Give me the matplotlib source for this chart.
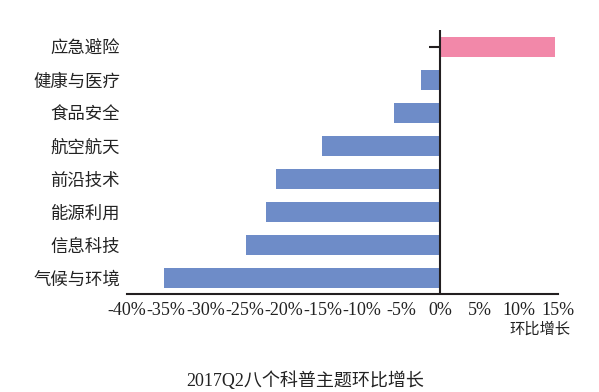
import numpy as np
import matplotlib.pyplot as plt
from matplotlib.ticker import FuncFormatter

# categories listed bottom to top
categories = ['气候与环境', '信息科技', '能源利用', '前沿技术', '航空航天', '食品安全', '健康与医疗', '应急避险']
growth = [-35.3, -24.8, -22.3, -21.0, -15.1, -5.9, -2.5, 14.6]
xticks = [-40, -35, -30, -25, -20, -15, -10, -5, 0, 5, 10, 15]

cjk = ['Noto Sans CJK SC', 'DejaVu Sans']
serif = ['Liberation Serif', 'Noto Sans CJK SC']
dark = '#231F20'

fig = plt.figure(figsize=(5.99, 3.92), dpi=100)
ax = fig.add_axes([0.212, 0.25, 0.7196, 0.6735])

y = np.arange(len(categories))
colors = ['#F288A9' if v > 0 else '#6E8CC8' for v in growth]
ax.barh(y, growth, height=0.6, color=colors, zorder=2)

ax.set_xlim(-40, 15)
ax.set_ylim(-0.485, 7.515)
ax.set_xticks(xticks)
ax.xaxis.set_major_formatter(FuncFormatter(lambda v, p: '%d%%' % v))
ax.set_yticks(y)
ax.set_yticklabels(categories, family=cjk, fontsize=12.5, color='#222222')
for lab in ax.get_xticklabels():
    lab.set_family(serif)
    lab.set_fontsize(13)
    lab.set_color('#222222')
ax.tick_params(axis='x', length=0, pad=6)
ax.tick_params(axis='y', length=0, pad=5)

for s in ['top', 'right', 'left']:
    ax.spines[s].set_visible(False)
ax.spines['bottom'].set_linewidth(1.5)
ax.spines['bottom'].set_color(dark)
ax.axvline(0, color=dark, lw=1.5, zorder=3)
# the lone tick mark beside the top bar
ax.hlines(y[-1], -1.5, 0, color=dark, lw=1.5, zorder=3)

fig.text(0.952, 0.16, '环比增长', family=cjk, fontsize=11, ha='right', va='center', color='#222222')
fig.text(0.51, 0.03, '2017Q2八个科普主题环比增长', family=serif, fontsize=13, ha='center', va='center', color='#222222')

fig.savefig('out.png', dpi=100)
